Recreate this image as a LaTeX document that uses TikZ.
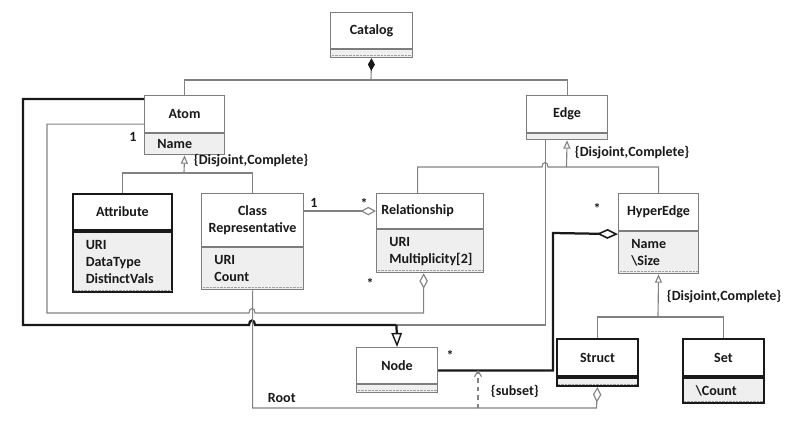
\documentclass[tikz,border=0pt]{standalone}
\usepackage{fontspec}
\setmainfont{Carlito}
\usetikzlibrary{arrows.meta, positioning}
\definecolor{BoxGray}{RGB}{125,125,125}
\definecolor{LineGray}{RGB}{130,130,130}
\definecolor{DarkLine}{RGB}{25,25,25}
\definecolor{CompGray}{RGB}{239,239,239}
\begin{document}
\begin{tikzpicture}[
        x=0.25mm, y=-0.25mm,
        font=\fontsize{10}{12}\selectfont\bfseries, text=DarkLine,
        hdr/.style={rectangle, draw=BoxGray, fill=white, line width=0.8pt, inner sep=0pt, align=center, anchor=north west},
        cmp/.style={rectangle, draw=BoxGray, fill=CompGray, line width=0.8pt, inner ysep=0pt, inner xsep=3.2mm, align=left, anchor=north},
        heavy/.style={draw=DarkLine, line width=1.4pt},
        line/.style={draw=LineGray, line width=0.8pt},
        thickline/.style={draw=DarkLine, line width=1.6pt},
        gen/.style={-{Triangle[open, length=6pt, width=5pt]}},
        biggen/.style={-{Triangle[open, length=10pt, width=7.5pt, line width=1pt]}},
        comp/.style={-{Diamond[color=DarkLine, length=9pt, width=5pt]}},
        aggr/.style={-{Diamond[open, length=11pt, width=6pt]}},
        bigaggr/.style={-{Diamond[open, length=15pt, width=7pt, line width=1.1pt]}},
        subarrow/.style={-{Straight Barb[length=4pt, width=5pt]}},
        dotrule/.style={draw=gray!75, line width=0.9pt, dash pattern=on 0.4pt off 0.6pt},
        mult/.style={inner sep=1pt}
    ]%
        \useasboundingbox (0,0) rectangle (800,434);
        % ================= CLASES =================
        \node[hdr, minimum width=20.5mm, minimum height=9mm] (catalog) at (330,12) {Catalog};
        \node[cmp, minimum width=20.5mm, minimum height=2mm] (catalog-a) at (catalog.south) {};
        \node[hdr, minimum width=20mm, minimum height=9.25mm] (atom) at (144,95) {Atom};
        \node[cmp, text width=13.6mm, minimum height=5.25mm] (atom-a) at (atom.south) {Name};
        \node[hdr, minimum width=20.25mm, minimum height=9.25mm] (edge) at (526,95) {Edge};
        \node[cmp, minimum width=20.25mm, minimum height=1.5mm] (edge-a) at (edge.south) {};
        \node[hdr, heavy, minimum width=24.75mm, minimum height=9mm] (attribute) at (72,193) {Attribute};
        \node[cmp, heavy, text width=18.35mm, minimum height=15mm] (attribute-a) at (attribute.south) {URI\\DataType\\DistinctVals};
        \node[hdr, minimum width=25.5mm, minimum height=13.25mm] (classrep) at (201,193) {Class\\Representative};
        \node[cmp, text width=19.1mm, minimum height=10.5mm] (classrep-a) at (classrep.south) {URI\\Count};
        \node[hdr, inner xsep=1.2mm, text width=24.35mm, align=left, minimum height=8.75mm] (relationship) at (376,193) {Relationship};
        \node[cmp, text width=20.35mm, minimum height=10.75mm] (relationship-a) at (relationship.south) {URI\\Multiplicity[2]};
        \node[hdr, minimum width=20mm, minimum height=9.25mm] (hyperedge) at (618,193) {HyperEdge};
        \node[cmp, text width=13.6mm, minimum height=10.5mm] (hyperedge-a) at (hyperedge.south) {Name\\\textbackslash Size};
        \node[hdr, minimum width=20.25mm, minimum height=9mm] (nodecl) at (356,347) {Node};
        \node[cmp, minimum width=20.25mm, minimum height=2mm] (nodecl-a) at (nodecl.south) {};
        \node[hdr, heavy, minimum width=20.25mm, minimum height=9.25mm] (struct) at (556,338) {Struct};
        \node[cmp, heavy, minimum width=20.25mm, minimum height=2mm] (struct-a) at (struct.south) {};
        \node[hdr, heavy, minimum width=20.25mm, minimum height=9.25mm] (set) at (682,338) {Set};
        \node[cmp, heavy, text width=13.85mm, minimum height=6.25mm] (set-a) at (set.south) {\textbackslash Count};
        % lineas punteadas al pie de los compartimentos
        \foreach \c in {catalog, attribute, classrep, relationship, hyperedge, nodecl, struct, set}
            \draw[dotrule] ([shift={(1.2pt,1.8pt)}]\c-a.south west) -- ([shift={(-1.2pt,1.8pt)}]\c-a.south east);
        % ================= COMPOSICION CATALOG =================
        \coordinate (bus) at (371,80);
        \draw[line] (atom.north) |- (bus) -| (edge.north);
        \draw[line, comp] (bus) -- (catalog-a.south);
        % ================= GENERALIZACION ATOM =================
        \coordinate (atom-gen) at (184,173);
        \draw[line, gen] (atom-gen) -- (atom-a.south);
        \draw[line] (attribute.north) |- (atom-gen) -| (classrep.north);
        \node[anchor=west] (dc-atom) at (189,161) {\{Disjoint,Complete\}};
        % ================= GENERALIZACION EDGE =================
        \coordinate (edge-gen) at (566.5,167);
        \draw[line, gen] (edge-gen) -- (edge-a.south);
        \draw[line] ([xshift=-3.1mm]relationship.north) |- (542,167) .. controls (542,161) and (548,161) .. (548,167) -| (hyperedge.north);
        \node[anchor=west] (dc-edge) at (570,153) {\{Disjoint,Complete\}};
        % ================= ATOM Y EDGE HACIA NODE =================
        \coordinate (node-gen) at (396.5,325);
        \draw[line] ([xshift=-5.4mm]edge-a.south) |- (node-gen);
        \draw[thickline] ([yshift=-1mm]atom.north west) -| (23,325) -- (249,325) .. controls (249,319) and (255,319) .. (255,325) -- (node-gen);
        \draw[thickline, biggen] (node-gen) -- (nodecl.north);
        % ================= AGREGACIONES DE RELATIONSHIP =================
        \draw[line, aggr] ([yshift=2.25mm]atom.south west) -| (47,313) -- (249,313) .. controls (249,307) and (255,307) .. (255,313) -| ([xshift=-1.6mm]relationship-a.south);
        \node[mult] (m-atom) at (133,137) {1};
        \node[mult] (m-relb) at (370,283) {*};
        \draw[line, aggr] (classrep.east |- relationship.west) -- (relationship.west);
        \node[mult] (m-cls) at (314,203) {1};
        \node[mult] (m-rell) at (364,203) {*};
        % ================= AGREGACION HYPEREDGE =================
        \draw[thickline, bigaggr] ([yshift=-1.25mm]nodecl.east) -| (553,233) -- ([yshift=-0.75mm]hyperedge.south west);
        \node[mult] (m-node) at (450,355) {*};
        \node[mult] (m-hyp) at (597,208) {*};
        % ================= ROOT Y SUBSET =================
        \coordinate (root-turn) at (596.5,408);
        \draw[line, aggr] (classrep-a.south) |- (root-turn) -- (struct-a.south);
        \node[anchor=west] (root) at (263,398) {Root};
        \coordinate (subset-from) at (478,408);
        \coordinate (subset-to) at (478,370);
        \draw[line, dashed, subarrow] (subset-from) -- (subset-to);
        \node[anchor=west] (subset) at (486,391) {\{subset\}};
        % ================= GENERALIZACION HYPEREDGE =================
        \coordinate (hyper-gen) at (658,317);
        \draw[line, gen] (hyper-gen) -- (hyperedge-a.south);
        \draw[line] (struct.north) |- (hyper-gen) -| (set.north);
        \node[anchor=west] (dc-hyp) at (662,297) {\{Disjoint,Complete\}};
    \end{tikzpicture}
\end{document}
